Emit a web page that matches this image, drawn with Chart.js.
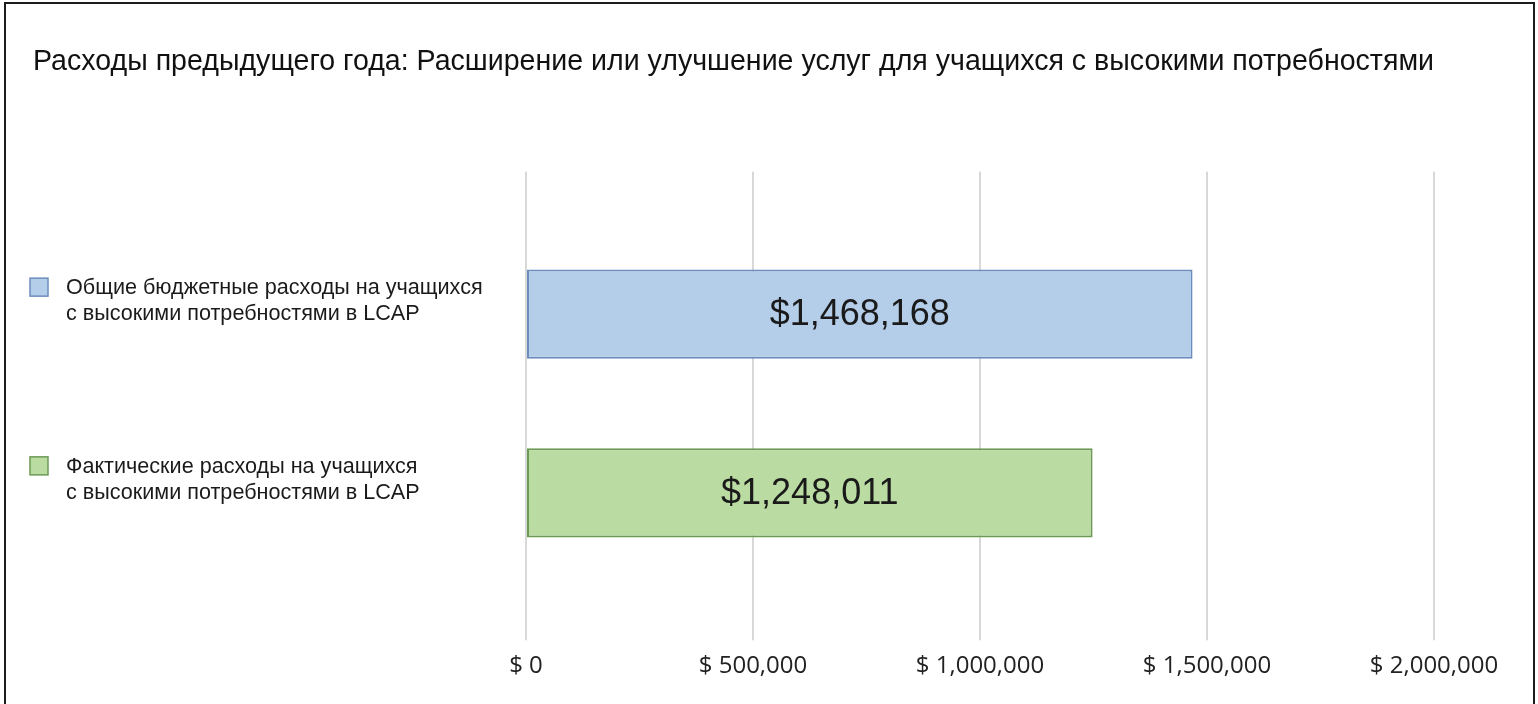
<!DOCTYPE html>
<html>
<head>
<meta charset="utf-8">
<script src="https://cdn.jsdelivr.net/npm/chart.js@4.4.0/dist/chart.umd.min.js"></script>
<style>
  html, body { margin: 0; padding: 0; background: #fff; overflow: hidden; }
  #wrap { position: relative; width: 1538px; height: 704px; }
  #frame { position: absolute; left: 4px; top: 2px; width: 1531px; height: 760px; border: 2px solid #1c1c1c; box-sizing: border-box; pointer-events: none; }
</style>
</head>
<body>
<div id="wrap">
  <canvas id="spendChart" width="1538" height="704"></canvas>
  <div id="frame"></div>
</div>
<script>
const chartTitle = "Расходы предыдущего года: Расширение или улучшение услуг для учащихся с высокими потребностями";
const categories = [
  ["Общие бюджетные расходы на учащихся", "с высокими потребностями в LCAP"],
  ["Фактические расходы на учащихся", "с высокими потребностями в LCAP"],
];
const amounts = [1468168, 1248011];
const barColors = ["#b4cde9", "#badca3"];
const barBorders = ["#6c8dbd", "#6b9a55"];
const xTicks = [0, 500000, 1000000, 1500000, 2000000];

function money(v) {
  return "$ " + v.toLocaleString("en-US");
}

// value written in the middle of each bar
const barValueLabels = {
  id: "barValueLabels",
  afterDatasetsDraw(chart) {
    const ctx = chart.ctx;
    const meta = chart.getDatasetMeta(0);
    ctx.save();
    ctx.font = '36px "Liberation Sans", Arial, sans-serif';
    ctx.fillStyle = "#1a1a1a";
    ctx.textAlign = "center";
    ctx.textBaseline = "middle";
    meta.data.forEach((bar, i) => {
      const p = bar.getProps(["x", "y", "base"], true);
      ctx.fillText("$" + amounts[i].toLocaleString("en-US"), (p.x + p.base) / 2, p.y + 1);
    });
    ctx.restore();
  },
};

// coloured key + category text on the left
const categoryKeys = {
  id: "categoryKeys",
  afterDraw(chart) {
    const ctx = chart.ctx;
    const yScale = chart.scales.y;
    ctx.save();
    ctx.font = '21.6px "Liberation Sans", Arial, sans-serif';
    ctx.textAlign = "left";
    ctx.textBaseline = "middle";
    categories.forEach((lines, i) => {
      const cy = yScale.getPixelForValue(i);
      const firstLine = cy - 26;
      ctx.fillStyle = barColors[i];
      ctx.strokeStyle = barBorders[i];
      ctx.lineWidth = 1.5;
      ctx.fillRect(30, firstLine - 10, 18, 18);
      ctx.strokeRect(30, firstLine - 10, 18, 18);
      ctx.fillStyle = "#1a1a1a";
      lines.forEach((line, j) => ctx.fillText(line, 66, firstLine + j * 26));
    });
    ctx.restore();
  },
};

const setTicks = (scale) => {
  scale.ticks = xTicks.map((v) => ({ value: v }));
};

const ctx = document.getElementById("spendChart").getContext("2d");

new Chart(ctx, {
  type: "bar",
  data: {
    labels: categories,
    datasets: [
      {
        data: amounts,
        backgroundColor: barColors,
        borderColor: barBorders,
        borderWidth: 2,
        borderSkipped: false,
        categoryPercentage: 1,
        barPercentage: 0.5,
      },
    ],
  },
  options: {
    indexAxis: "y",
    responsive: false,
    animation: false,
    layout: {
      padding: { left: 33, right: 104, top: 0, bottom: 11 },
    },
    scales: {
      x: {
        position: "bottom",
        min: xTicks[0],
        max: xTicks[xTicks.length - 1],
        afterBuildTicks: setTicks,
        grid: { color: "#d8d8d8", lineWidth: 2, drawTicks: true, tickLength: 58 },
        border: { display: false },
        ticks: {
          padding: 12,
          color: "#222",
          font: { family: "'Open Sans'", size: 24 },
          callback: (v) => money(v),
        },
      },
      xTop: {
        axis: "x",
        position: "top",
        min: xTicks[0],
        max: xTicks[xTicks.length - 1],
        afterBuildTicks: setTicks,
        grid: { color: "#d8d8d8", lineWidth: 2, drawOnChartArea: false, drawTicks: true, tickLength: 53 },
        border: { display: false },
        ticks: { display: false },
      },
      y: {
        grid: { display: false },
        border: { display: false },
        ticks: { display: false },
        afterFit: (scale) => {
          scale.width = 493;
        },
      },
    },
    plugins: {
      legend: { display: false },
      tooltip: { enabled: false },
      title: {
        display: true,
        text: chartTitle,
        align: "start",
        color: "#111",
        font: { family: "'Liberation Sans'", size: 29, weight: "normal" },
        padding: { top: 45, bottom: 92 },
      },
    },
  },
  plugins: [barValueLabels, categoryKeys],
});
</script>
</body>
</html>
